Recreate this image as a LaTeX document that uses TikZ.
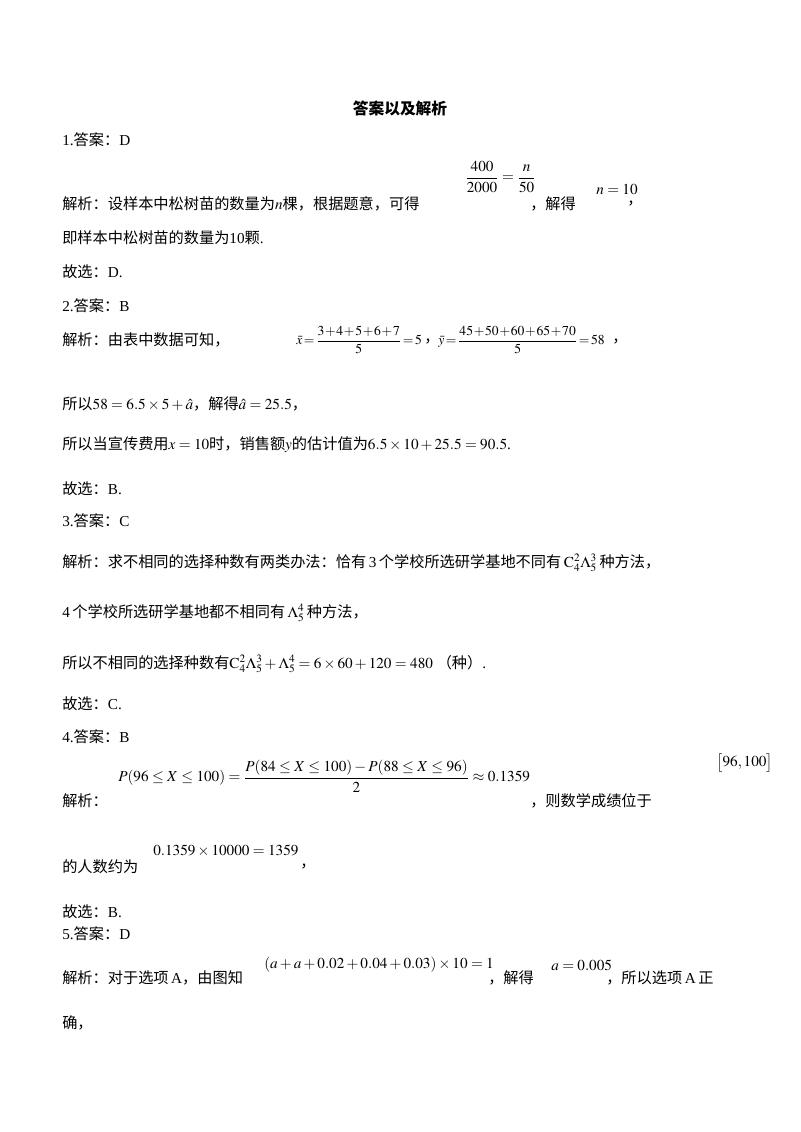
\documentclass[tikz,border=0pt]{standalone}
\usepackage{amsmath}
\usepackage{mathptmx}
\usepackage{fontspec}
\setmainfont{Liberation Serif}
\newfontfamily\cjk{Noto Sans CJK SC}
\newcommand{\zh}[1]{{\cjk #1}}
\newcommand{\tight}{\medmuskip=1mu\thickmuskip=2mu}
\begin{document}
\begin{tikzpicture}[x=0.75pt,y=-0.75pt,
  t/.style={anchor=west,inner sep=0pt,font=\fontsize{11.4}{13}\selectfont},
  m/.style={anchor=west,inner sep=0pt,font=\fontsize{11.4}{13}\selectfont},
  ms/.style={anchor=west,inner sep=0pt,font=\fontsize{10.2}{11}\selectfont}]
\useasboundingbox (0,0) rectangle (800,1132);
\node[inner sep=0pt,font=\fontsize{11.8}{13}\selectfont\cjk\bfseries] (title) at (400,108) {答案以及解析};
\node[t] (a1) at (62,140) {1.\zh{答案：}D};
\node[t] (j1) at (62,204) {\zh{解析：设样本中松树苗的数量为}$n$\zh{棵，根据题意，可得}};
\node[m] (f1) at (465,177) {$\dfrac{400}{2000}=\dfrac{n}{50}$};
\node[t] (j1b) at (530,204) {\zh{，解得}};
\node[m] (f1b) at (596,190) {$n=10$};
\node[t] (j1c) at (627,204) {\zh{，}};
\node[t] (l1) at (62,238) {\zh{即样本中松树苗的数量为}10\zh{颗}.};
\node[t] (g1) at (62,272) {\zh{故选：}D.};
\node[t] (a2) at (62,306) {2.\zh{答案：}B};
\node[t] (j2) at (62,340) {\zh{解析：由表中数据可知，}};
\node[ms] (f2a) at (296,340) {$\tight\bar{x}=\dfrac{3+4+5+6+7}{5}=5$};
\node[t] (c2) at (424,342) {\zh{，}};
\node[ms] (f2b) at (438,340) {$\tight\bar{y}=\dfrac{45+50+60+65+70}{5}=58$};
\node[t] (c2b) at (612,342) {\zh{，}};
\node[t] (l2) at (62,404) {\zh{所以}$58=6.5\times5+\hat{a}$\zh{，解得}$\hat{a}=25.5$\zh{，}};
\node[t] (l2b) at (62,445) {\zh{所以当宣传费用}$x=10$\zh{时，销售额}$y$\zh{的估计值为}$6.5\times10+25.5=90.5$.};
\node[t] (g2) at (62,489) {\zh{故选：}B.};
\node[t] (a3) at (62,521) {3.\zh{答案：}C};
\node[t] (j3) at (62,563) {\zh{解析：求不相同的选择种数有两类办法：恰有}\,3\,\zh{个学校所选研学基地不同有}\,$\mathrm{C}_4^2\Lambda_5^3$\,\zh{种方法，}};
\node[t] (l3) at (62,613) {4\,\zh{个学校所选研学基地都不相同有}\,$\Lambda_5^4$\,\zh{种方法，}};
\node[t] (l3b) at (62,664) {\zh{所以不相同的选择种数有}$\mathrm{C}_4^2\Lambda_5^3+\Lambda_5^4=6\times60+120=480$\ \zh{（种）}.};
\node[t] (g3) at (62,704) {\zh{故选：}C.};
\node[t] (a4) at (62,737) {4.\zh{答案：}B};
\node[t] (j4) at (62,801) {\zh{解析：}};
\node[m] (f4) at (118,776) {$P(96\le X\le100)=\dfrac{P(84\le X\le100)-P(88\le X\le96)}{2}\approx0.1359$};
\node[t] (j4b) at (530,801) {\zh{，则数学成绩位于}};
\node[m] (f4b) at (716,763) {$\bigl[96,100\bigr]$};
\node[t] (l4) at (62,867) {\zh{的人数约为}};
\node[m] (f4c) at (153,851) {$0.1359\times10000=1359$};
\node[t] (l4c) at (300,867) {\zh{，}};
\node[t] (g4) at (62,912) {\zh{故选：}B.};
\node[t] (a5) at (62,934) {5.\zh{答案：}D};
\node[t] (j5) at (62,978) {\zh{解析：对于选项}\,A\zh{，由图知}};
\node[m] (f5) at (264,965) {$(a+a+0.02+0.04+0.03)\times10=1$};
\node[t] (j5b) at (488,978) {\zh{，解得}};
\node[m] (f5b) at (551,965) {$a=0.005$};
\node[t] (j5c) at (606,978) {\zh{，所以选项}\,A\,\zh{正}};
\node[t] (l5) at (62,1023) {\zh{确，}};
\end{tikzpicture}
\end{document}
